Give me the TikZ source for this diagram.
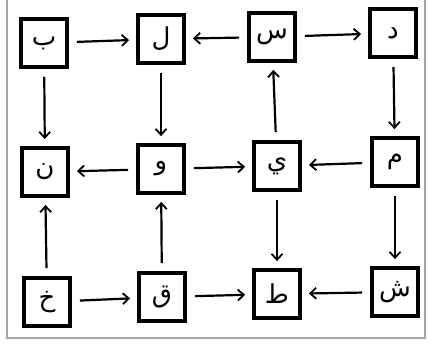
\documentclass[tikz,border=0pt]{standalone}
\usepackage{fontspec}
\newfontfamily\arabicfont[Script=Arabic]{DejaVu Sans}
\TeXXeTstate=1
\usetikzlibrary{arrows.meta}
\begin{document}
\begin{tikzpicture}[x=1pt,y=-1pt,
  letterbox/.style={draw=black, line width=3.8pt, minimum width=46pt, minimum height=48pt, inner sep=0pt, font=\arabicfont\fontsize{26}{30}\selectfont},
  link/.style={line width=2.2pt, -{Straight Barb[length=6pt,width=11pt,line width=1.8pt]}, shorten <=8pt, shorten >=7pt}]
\useasboundingbox (0,0) rectangle (429,351);
\fill[white] (0,0) rectangle (429,351);
\draw[gray!70, line width=1.5pt] (7,-2) -- (7,338) -- (425,338) -- (425,-2);
% row 1
\node[letterbox] (b) at (44,43) {\beginR ب\endR};
\node[letterbox] (l) at (161,39) {\beginR ل\endR};
\node[letterbox] (s) at (272,37) {\beginR س\endR};
\node[letterbox] (d) at (393,33) {\beginR د\endR};
% row 2
\node[letterbox] (n) at (45,172) {\beginR ن\endR};
\node[letterbox] (w) at (161,169) {\beginR و\endR};
\node[letterbox] (y) at (277,166) {\beginR ي\endR};
\node[letterbox] (m) at (395,162) {\beginR م\endR};
% row 3
\node[letterbox] (kh) at (47,302) {\beginR خ\endR};
\node[letterbox] (q) at (162,297) {\beginR ق\endR};
\node[letterbox] (t) at (277,294) {\beginR ط\endR};
\node[letterbox] (sh) at (395,292) {\beginR ش\endR};
% horizontal
\draw[link] (b) -- (l);
\draw[link] (s) -- (l);
\draw[link] (s) -- (d);
\draw[link] (w) -- (n);
\draw[link] (w) -- (y);
\draw[link] (m) -- (y);
\draw[link] (kh) -- (q);
\draw[link] (q) -- (t);
\draw[link] (sh) -- (t);
% vertical
\draw[link] (b) -- (n);
\draw[link] (l) -- (w);
\draw[link] (y) -- (s);
\draw[link] (d) -- (m);
\draw[link] (kh) -- (n);
\draw[link] (q) -- (w);
\draw[link] (y) -- (t);
\draw[link] (m) -- (sh);
\end{tikzpicture}
\end{document}
